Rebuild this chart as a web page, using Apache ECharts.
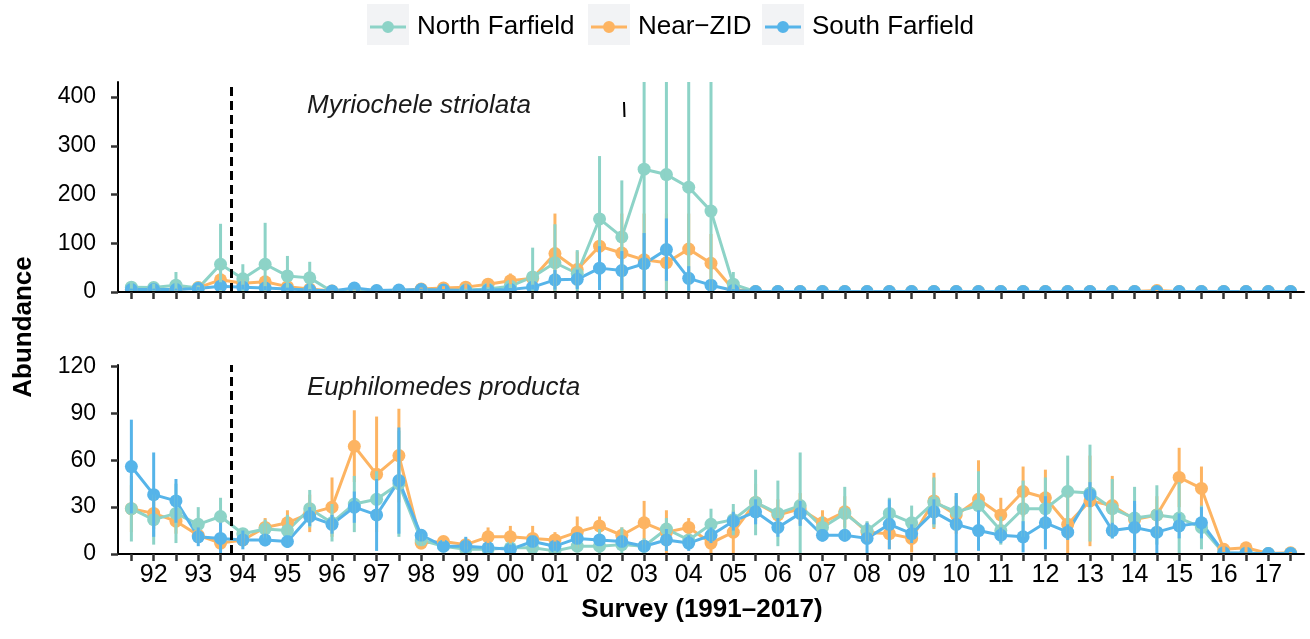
<!DOCTYPE html>
<html>
<head>
<meta charset="utf-8">
<script src="https://cdn.jsdelivr.net/npm/echarts@6/dist/echarts.min.js"></script>
<style>
  html, body { margin: 0; padding: 0; background: #fff; }
  #chart { width: 1310px; height: 639px; }
</style>
</head>
<body>
<div id="chart"></div>
<script>
// Semi-annual surveys, 1991 (second survey) to 2017; year labels sit on the first survey of each year
const YEAR_LABELS = ['92','93','94','95','96','97','98','99','00','01','02','03','04','05','06','07','08','09','10','11','12','13','14','15','16','17'];
const STATIONS = ['North Farfield', 'Near\u2212ZID', 'South Farfield'];
const COLORS = { 'North Farfield': '#8DD3C7', 'Near\u2212ZID': '#FDB462', 'South Farfield': '#56B4E9' };

// Myriochele striolata: mean abundance per survey and standard deviation
const MYR_NORTH = [10,9,14,8,57,27,57,33,29,1, 2,1,2,2,3,4,6,12,31,60, 38,150,113,252,241,215,166,16,0.5,0.5, 0.5,0.5,0.5,0.5,0.5,0.5,0.5,0.5,0.5,0.5, 0.5,0.5,0.5,0.5,0.5,0.5,0.5,0.5,0.5,0.5, 0.5,0.5,0.5];
const MYR_NEAR  = [5,5,5,9,25,18,21,11,6,2, 3,2,2,6,8,10,16,23,28,79, 46,94,80,66,60,88,59,5,1,1, 1,1,1,1,1,1,1,1,1,1, 1,1,1,1,1,1,3,1,1,1, 1,1,1];
const MYR_SOUTH = [5,5,5,7,12,10,8,6,4,2, 8,3,4,5,4,3,4,5,10,25, 26,49,44,58,87,28,14,3,1,1, 1,1,1,1,1,1,1,1,1,1, 1,1,1,1,1,1,1,1,1,1, 1,1,1];
const MYR_NORTH_SD = [11,8,27,5,83,30,85,41,33,1, 2,1,2,2,2,3,4,4,60,79, 48,129,116,300,300,300,300,25,0,0, 0,0,0,0,0,0,0,0,0,0, 0,0,0,0,0,0,0,0,0,0, 0,0,0];
const MYR_NEAR_SD  = [3,3,3,4,30,8,10,5,3,1, 2,1,1,3,4,6,8,15,15,82, 37,60,81,95,101,73,60,4,0,0, 0,0,0,0,0,0,0,0,0,0, 0,0,0,0,0,0,1,0,0,0, 0,0,0];
const MYR_SOUTH_SD = [2,2,2,3,8,5,4,3,2,1, 3,1,2,2,2,1,2,3,5,20, 20,45,40,63,64,25,12,3,0,0, 0,0,0,0,0,0,0,0,0,0, 0,0,0,0,0,0,0,0,0,0, 0,0,0];

// Euphilomedes producta: mean abundance per survey and standard deviation
const EUP_NORTH = [29,22,26,19,24,13,16,15,29,20, 32,35,45,9,5,3,3,4,4,2, 5,5,6,5,16,9,19,22,33,26, 31,17,26,15,26,20,33,27,31,15, 29,29,40,39,29,23,25,23,17,0.5, 0.5,0.3,0.3];
const EUP_NEAR  = [29,26,21,12,7,9,17,20,26,30, 69,51,63,7,8,6,11,11,10,9, 14,18,12,20,14,17,7,14,33,25, 29,20,27,14,13,10,34,25,35,25, 40,36,19,34,31,22,25,49,42,3, 4,0.3,0.8];
const EUP_SOUTH = [56,38,34,11,10,9,9,8,24,19, 30,25,47,12,5,5,4,3,8,5, 10,9,8,5,9,7,12,21,27,17, 26,12,12,10,19,13,27,19,15,12, 11,20,14,38,15,17,14,18,20,0.8, 0.5,0.3,0.3];
const EUP_NORTH_SD = [21,16,19,11,12,3,6,10,12,12, 18,18,34,4,3,2,3,3,4,2, 4,11,11,5,7,4,10,10,21,21, 34,7,17,6,10,11,16,12,22,9, 18,20,23,31,19,20,19,23,14,0.5, 0.3,0.3,0.3];
const EUP_NEAR_SD  = [15,10,8,5,5,4,6,8,12,19, 23,37,30,4,3,3,6,7,8,5, 10,6,5,14,14,6,7,14,12,10, 10,8,10,6,10,9,18,12,25,11, 16,18,19,29,19,10,12,19,14,2, 3,0.3,0.5];
const EUP_SOUTH_SD = [30,27,14,6,10,6,4,4,6,6, 10,23,34,4,3,6,3,3,4,3, 4,4,4,4,7,5,5,6,8,6, 8,4,4,10,16,6,8,20,13,5, 10,17,5,8,5,17,14,8,10,0.5, 0.3,0.3,0.3];

const TOP_TICKS = [0, 100, 200, 300, 400];
const BOTTOM_TICKS = [0, 30, 60, 90, 120];
const DIVIDER_AT = 4.5; // dashed divider between the fifth and sixth surveys

const panels = [
  { label: 'Myriochele striolata', yMax: 431, yTicks: TOP_TICKS,
    means: { 'North Farfield': MYR_NORTH, 'Near\u2212ZID': MYR_NEAR, 'South Farfield': MYR_SOUTH },
    sds:   { 'North Farfield': MYR_NORTH_SD, 'Near\u2212ZID': MYR_NEAR_SD, 'South Farfield': MYR_SOUTH_SD } },
  { label: 'Euphilomedes producta', yMax: 121, yTicks: BOTTOM_TICKS,
    means: { 'North Farfield': EUP_NORTH, 'Near\u2212ZID': EUP_NEAR, 'South Farfield': EUP_SOUTH },
    sds:   { 'North Farfield': EUP_NORTH_SD, 'Near\u2212ZID': EUP_NEAR_SD, 'South Farfield': EUP_SOUTH_SD } }
];

const N_SURVEYS = MYR_NORTH.length;
const surveyIdx = Array.from({ length: N_SURVEYS }, (_, i) => i);
const labelIdx = YEAR_LABELS.map((_, k) => 2 * k + 1);

const FONT = '"Liberation Sans", Arial, sans-serif';

const grids = [
  { left: 118, right: 6, top: 82, height: 210 },
  { left: 118, right: 6, top: 365, height: 189 }
];

const xAxes = panels.map((p, k) => ({
  type: 'value', gridIndex: k, min: -0.6, max: N_SURVEYS - 0.4, z: 6,
  axisLine: { show: true, onZero: false, lineStyle: { color: '#000', width: 2 } },
  axisTick: { show: true, customValues: surveyIdx, length: 7, lineStyle: { color: '#333', width: 2.5 } },
  axisLabel: {
    show: k === 1, customValues: labelIdx, margin: 9,
    formatter: v => YEAR_LABELS[(v - 1) / 2],
    color: '#000', fontSize: 25, fontFamily: FONT
  },
  splitLine: { show: false }
}));

const yAxes = panels.map((p, k) => ({
  type: 'value', gridIndex: k, min: 0, max: p.yMax, z: 6,
  axisLine: { show: true, onZero: false, lineStyle: { color: '#000', width: 2 } },
  axisTick: { show: true, customValues: p.yTicks, length: 7, lineStyle: { color: '#333', width: 2.5 } },
  axisLabel: { customValues: p.yTicks, margin: 22, color: '#000', fontSize: 23, fontFamily: FONT },
  splitLine: { show: false }
}));

// Draw order: Near-ZID underneath, then North, then South on top
const DRAW_ORDER = ['Near\u2212ZID', 'North Farfield', 'South Farfield'];
const series = [];
panels.forEach((p, k) => {
  DRAW_ORDER.forEach(name => {
    const line = {
      type: 'line', name: name, xAxisIndex: k, yAxisIndex: k,
      data: p.means[name].map((v, i) => [i, v]),
      symbol: 'circle', symbolSize: 13, showSymbol: true,
      lineStyle: { color: COLORS[name], width: 3 },
      itemStyle: { color: COLORS[name] },
      z: 2, silent: true, animation: false
    };
    if (name === 'North Farfield') {
      line.markLine = {
        silent: true, symbol: 'none', animation: false,
        label: { show: false },
        lineStyle: { color: '#000', type: [9, 5], width: 3 },
        data: [{ xAxis: DIVIDER_AT }]
      };
    }
    series.push(line);
  });
  DRAW_ORDER.forEach(name => {
    const m = p.means[name], s = p.sds[name];
    const color = COLORS[name];
    series.push({
      type: 'custom', name: name + ' sd', xAxisIndex: k, yAxisIndex: k,
      data: m.map((v, i) => [i, Math.max(0, v - s[i]), Math.min(p.yMax, v + s[i])]),
      encode: { x: 0, y: [1, 2] },
      renderItem: (params, api) => {
        const lo = api.coord([api.value(0), api.value(1)]);
        const hi = api.coord([api.value(0), api.value(2)]);
        return { type: 'line', shape: { x1: lo[0], y1: lo[1], x2: hi[0], y2: hi[1] },
                 style: { stroke: color, lineWidth: 3 } };
      },
      z: 3, silent: true, animation: false
    });
  });
});

// Legend key: a short thick line either side of a filled dot
const KEY_ICON = 'path://M0,5H13V8H0Z M23,5H36V8H23Z M12,6.5A6,6 0 1,1 24,6.5A6,6 0 1,1 12,6.5Z';

// One legend per station so each entry keeps its own place in the row
const legendSpots = [
  { name: 'North Farfield', left: 370, box: 367 },
  { name: 'Near\u2212ZID', left: 591, box: 588 },
  { name: 'South Farfield', left: 765, box: 762 }
];
const legends = legendSpots.map(s => ({
  data: [{ name: s.name, icon: KEY_ICON }], left: s.left, top: 14, padding: 0, orient: 'horizontal',
  itemWidth: 36, itemHeight: 12, selectedMode: false, z: 8,
  textStyle: { color: '#000', fontSize: 26, fontFamily: FONT, padding: [0, 0, 0, 6] }
}));

const graphics = [];
legendSpots.forEach(s => graphics.push({
  type: 'rect', z: 1, shape: { x: s.box, y: 4, width: 42, height: 41 }, style: { fill: '#F2F3F5' }
}));
// white strips just under each x-axis line keep the markers from showing below the panels
grids.forEach(g => graphics.push({
  type: 'rect', z: 5, shape: { x: g.left + 1, y: g.top + g.height + 1, width: 1310 - g.left - g.right, height: 8 },
  style: { fill: '#fff' }
}));
graphics.push(
  { type: 'text', z: 7, style: { text: panels[0].label, x: 307, y: 106, font: 'italic 26px ' + FONT, fill: '#1a1a1a', verticalAlign: 'middle' } },
  { type: 'text', z: 7, style: { text: panels[1].label, x: 307, y: 388, font: 'italic 26px ' + FONT, fill: '#1a1a1a', verticalAlign: 'middle' } },
  { type: 'line', z: 7, shape: { x1: 624, y1: 102, x2: 624.5, y2: 117 }, style: { stroke: '#000', lineWidth: 2 } },
  { type: 'text', z: 7, x: 24, y: 327, rotation: Math.PI / 2,
    style: { text: 'Abundance', x: 0, y: 0, align: 'center', verticalAlign: 'middle', font: 'bold 26px ' + FONT, fill: '#000' } },
  { type: 'text', z: 7, style: { text: 'Survey (1991\u20132017)', x: 702, y: 610, align: 'center', verticalAlign: 'middle', font: 'bold 26px ' + FONT, fill: '#000' } }
);

const chart = echarts.init(document.getElementById('chart'), null, { renderer: 'canvas' });
chart.setOption({
  backgroundColor: '#fff',
  animation: false,
  legend: legends,
  grid: grids,
  xAxis: xAxes,
  yAxis: yAxes,
  series: series,
  graphic: graphics
});
</script>
</body>
</html>
